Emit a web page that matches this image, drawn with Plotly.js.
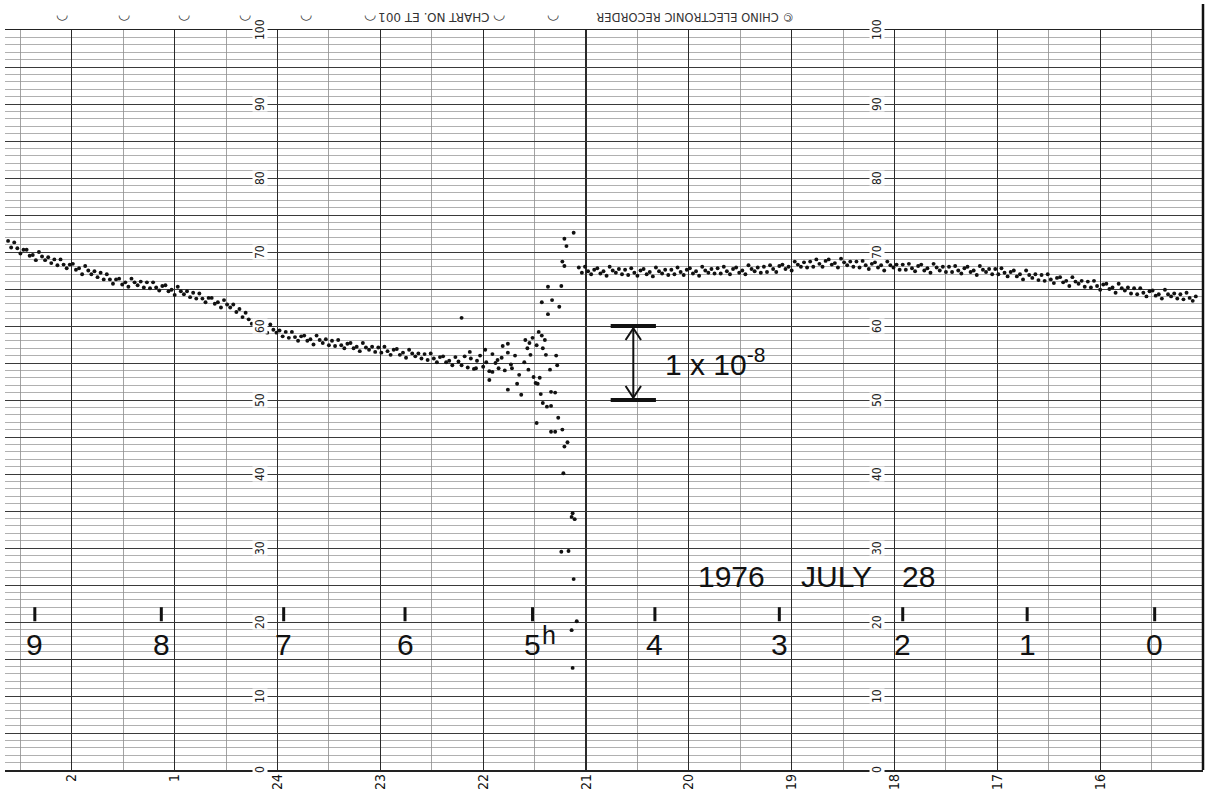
<!DOCTYPE html>
<html><head><meta charset="utf-8">
<script src="https://cdn.plot.ly/plotly-3.0.1.min.js"></script>
<style>html,body{margin:0;padding:0;background:#fff}#chart{width:1208px;height:793px}</style>
</head><body><div id="chart"></div>
<script>
// chart-recorder hour ticks (bottom), time runs right-to-left
const hourVals = [26,25,24,23,22,21,20,19,18,17,16];
const hourText = ['2','1','24','23','22','21','20','19','18','17','16'];
// scale labels printed on the paper
const scaleVals = [0,10,20,30,40,50,60,70,80,90,100];
const scaleCols = [24.17,18.17];
// hand-written UT hour marks
const utLabels = ['9','8','7','6','5','4','3','2','1','0'];
const utPos = [26.36,25.13,23.94,22.76,21.52,20.33,19.12,17.92,16.71,15.47];
const dateParts = ['1976','JULY','28'];
const datePos = [19.59,18.56,17.77];
const perfPos = [26.10,25.49,24.91,24.32,23.72,23.10,21.85,21.32];
const scaleBar = {x:20.54, lo:50, hi:60, label:'1 x 10<sup>-8</sup>'};

// recorded dots, before the disturbance
const leftH = [26.62,26.59,26.56,26.53,26.50,26.47,26.44,26.41,26.38,26.35,
26.32,26.29,26.26,26.23,26.20,26.17,26.14,26.11,26.08,26.05,
26.02,25.99,25.96,25.93,25.90,25.87,25.84,25.81,25.78,25.75,
25.72,25.69,25.66,25.63,25.60,25.57,25.54,25.51,25.48,25.45,
25.42,25.39,25.36,25.33,25.30,25.27,25.24,25.21,25.18,25.15,
25.12,25.09,25.06,25.03,25.00,24.97,24.94,24.91,24.88,24.85,
24.82,24.79,24.76,24.73,24.70,24.67,24.64,24.61,24.58,24.55,
24.52,24.49,24.46,24.43,24.40,24.37,24.34,24.31,24.28,24.25,
24.22,24.19,24.16,24.13,24.10,24.07,24.04,24.01,23.98,23.95,
23.92,23.89,23.86,23.83,23.80,23.77,23.74,23.71,23.68,23.65,
23.62,23.59,23.56,23.53,23.50,23.47,23.44,23.41,23.38,23.35,
23.32,23.29,23.26,23.23,23.20,23.17,23.14,23.11,23.08,23.05,
23.02,22.99,22.96,22.93,22.90,22.87,22.84,22.81,22.78,22.75,
22.72,22.69,22.66,22.63,22.60,22.57,22.54,22.51,22.48,22.45,
22.42,22.39,22.36,22.33,22.30,22.27,22.24,22.21,22.18,22.15,
22.12,22.09,22.06,22.03,22.00,21.97,21.94,21.91,21.88,21.85,
21.82,21.79,21.76,21.73];
const leftV = [71.5,70.6,71.3,70.5,69.8,70.3,70.3,69.5,69.6,68.9,
70.0,69.4,68.9,69.3,68.5,69.0,68.2,69.0,68.3,67.8,
68.3,68.4,67.6,67.8,67.0,68.1,67.5,67.0,67.4,66.6,
67.2,66.3,67.0,66.3,65.7,66.3,66.4,65.6,65.9,65.3,
66.4,65.9,65.5,66.0,65.2,65.9,65.1,65.9,65.2,64.8,
65.4,65.5,64.7,64.9,64.2,65.3,64.7,64.3,64.7,63.9,
64.5,63.7,64.4,63.7,63.2,63.8,63.8,63.0,63.2,62.5,
63.5,62.9,62.5,62.9,61.9,62.3,61.2,61.8,60.9,60.3,
60.7,60.7,59.7,59.9,59.1,60.2,59.5,59.1,59.4,58.6,
59.2,58.4,59.2,58.5,58.0,58.6,58.7,58.0,58.2,57.5,
58.7,58.1,57.7,58.2,57.4,58.0,57.3,58.1,57.4,57.0,
57.6,57.7,57.0,57.2,56.6,57.7,57.1,56.8,57.2,56.5,
57.1,56.4,57.2,56.6,56.1,56.8,56.9,56.1,56.4,55.7,
56.8,56.3,55.9,56.3,55.6,56.2,55.4,56.3,55.6,55.1,
55.8,55.9,55.1,55.3,54.7,55.8,55.2,54.7,55.9,54.4,
55.6,54.2,55.3,56.0,54.5,55.1,53.9,56.2,55.0,54.3,
55.7,54.0,56.4,54.8];
// scattered dots of the disturbance
const noiseH = [22.21,21.76,21.76,21.67,21.63,21.57,21.55,21.52,21.48,21.46,
21.43,21.43,21.42,21.37,21.37,21.33,21.26,21.24,21.23,21.21,
21.21,21.19,21.12,21.29,21.28,21.45,21.49,21.34,21.30,21.47,
21.44,21.42,21.38,21.34,21.27,21.48,21.34,21.30,21.23,21.18,
21.21,21.22,21.13,21.14,21.11,21.24,21.17,21.12,21.09,21.14,
21.13,21.98,21.91,21.86,21.81,21.72,21.69,21.65,21.60,21.56,
21.54,21.51,21.94,22.07,22.13,21.59,21.39,21.35,21.40];
const noiseV = [61.1,57.6,51.4,52.2,50.7,57.0,57.7,58.4,57.4,59.2,
58.7,63.2,57.0,65.3,61.6,63.5,62.6,65.4,68.7,68.1,
71.8,70.8,72.6,56.0,54.7,53.0,52.3,51.1,51.0,52.2,
50.8,49.6,49.1,49.2,47.6,46.9,45.7,45.7,46.0,44.3,
43.7,40.1,34.7,34.2,33.9,29.5,29.6,25.8,20.1,18.9,
13.8,56.8,53.8,55.4,57.3,54.3,56.0,53.4,55.1,54.1,
56.1,53.1,52.7,54.3,56.5,58.1,56.1,54.1,58.1];
// recorded dots, after the disturbance
const rightH = [21.07,21.04,21.01,20.98,20.95,20.92,20.89,20.86,20.83,20.80,
20.77,20.74,20.71,20.68,20.65,20.62,20.59,20.56,20.53,20.50,
20.47,20.44,20.41,20.38,20.35,20.32,20.29,20.26,20.23,20.20,
20.17,20.14,20.11,20.08,20.05,20.02,19.99,19.96,19.93,19.90,
19.87,19.84,19.81,19.78,19.75,19.72,19.69,19.66,19.63,19.60,
19.57,19.54,19.51,19.48,19.45,19.42,19.39,19.36,19.33,19.30,
19.27,19.24,19.21,19.18,19.15,19.12,19.09,19.06,19.03,19.00,
18.97,18.94,18.91,18.88,18.85,18.82,18.79,18.76,18.73,18.70,
18.67,18.64,18.61,18.58,18.55,18.52,18.49,18.46,18.43,18.40,
18.37,18.34,18.31,18.28,18.25,18.22,18.19,18.16,18.13,18.10,
18.07,18.04,18.01,17.98,17.95,17.92,17.89,17.86,17.83,17.80,
17.77,17.74,17.71,17.68,17.65,17.62,17.59,17.56,17.53,17.50,
17.47,17.44,17.41,17.38,17.35,17.32,17.29,17.26,17.23,17.20,
17.17,17.14,17.11,17.08,17.05,17.02,16.99,16.96,16.93,16.90,
16.87,16.84,16.81,16.78,16.75,16.72,16.69,16.66,16.63,16.60,
16.57,16.54,16.51,16.48,16.45,16.42,16.39,16.36,16.33,16.30,
16.27,16.24,16.21,16.18,16.15,16.12,16.09,16.06,16.03,16.00,
15.97,15.94,15.91,15.88,15.85,15.82,15.79,15.76,15.73,15.70,
15.67,15.64,15.61,15.58,15.55,15.52,15.49,15.46,15.43,15.40,
15.37,15.34,15.31,15.28,15.25,15.22,15.19,15.16,15.13,15.10,
15.07];
const rightV = [67.9,67.2,68.0,67.4,67.0,67.6,67.8,67.1,67.4,66.8,
68.0,67.5,67.2,67.7,67.0,67.6,66.9,67.8,67.2,66.8,
67.5,67.7,67.0,67.3,66.7,67.9,67.4,67.1,67.6,66.9,
67.6,67.0,67.9,67.3,66.9,67.6,67.8,67.1,67.4,66.8,
68.0,67.5,67.2,67.7,67.1,67.8,67.1,68.0,67.4,67.0,
67.7,67.9,67.2,67.5,67.0,68.2,67.7,67.4,67.9,67.2,
68.0,67.3,68.2,67.7,67.3,68.1,68.3,67.7,68.0,67.5,
68.7,68.3,68.0,68.6,67.9,68.7,68.0,69.0,68.4,68.0,
68.8,69.0,68.3,68.5,67.9,69.1,68.6,68.2,68.7,68.0,
68.7,67.9,68.8,68.2,67.7,68.4,68.6,67.9,68.2,67.5,
68.7,68.2,67.9,68.3,67.6,68.3,67.6,68.4,67.8,67.4,
68.1,68.3,67.5,67.8,67.2,68.4,67.9,67.5,68.0,67.3,
68.0,67.3,68.1,67.5,67.1,67.8,68.0,67.3,67.5,66.9,
68.1,67.6,67.3,67.7,67.0,67.7,67.0,67.8,67.2,66.7,
67.3,67.5,66.7,67.0,66.3,67.5,66.9,66.5,67.0,66.2,
66.9,66.1,67.0,66.3,65.8,66.5,66.6,65.9,66.1,65.4,
66.6,66.0,65.7,66.1,65.3,66.0,65.2,66.1,65.4,64.9,
65.6,65.7,65.0,65.2,64.5,65.7,65.1,64.8,65.2,64.4,
65.1,64.3,65.1,64.5,64.0,64.7,64.8,64.1,64.3,63.7,
64.9,64.3,64.0,64.4,63.7,64.3,63.6,64.5,63.8,63.4,
64.0];

const ink = '#111';
const dotStyle = {size:3.9, color:ink};
const traces = [
  {x:leftH, y:leftV, type:'scatter', mode:'markers', marker:dotStyle, hoverinfo:'skip'},
  {x:noiseH, y:noiseV, type:'scatter', mode:'markers', marker:dotStyle, hoverinfo:'skip'},
  {x:rightH, y:rightV, type:'scatter', mode:'markers', marker:dotStyle, hoverinfo:'skip'}
];

const lettering = {family:'Liberation Sans, Arial, sans-serif', size:30, color:ink};
const printed = {family:'DejaVu Sans Condensed, DejaVu Sans, sans-serif', size:12, color:'#222'};
// paper-y for the strip above the grid (grid top is 30 px below the page top, grid is 740 px tall)
const aboveY = px => 1 + (30 - px) / 740;

const annotations = [];
scaleCols.forEach(c => scaleVals.forEach(v => annotations.push({
  x:c, y:v, xref:'x', yref:'y', text:String(v), showarrow:false, textangle:-90,
  font:printed, bgcolor:'#fff', borderpad:0, xanchor:'center', yanchor:'middle'})));
utLabels.forEach((t,i) => annotations.push({x:utPos[i], y:16.9, xref:'x', yref:'y', text:t,
  showarrow:false, font:lettering, xanchor:'center', yanchor:'middle'}));
annotations.push({x:21.36, y:18.3, xref:'x', yref:'y', text:'h', showarrow:false,
  font:Object.assign({}, lettering, {size:25}), xanchor:'center', yanchor:'middle'});
dateParts.forEach((t,i) => annotations.push({x:datePos[i], y:26.1, xref:'x', yref:'y', text:t,
  showarrow:false, font:lettering, xanchor:'center', yanchor:'middle'}));
annotations.push({x:20.25, y:55.1, xref:'x', yref:'y', text:scaleBar.label, showarrow:false,
  font:lettering, xanchor:'left', yanchor:'middle'});
annotations.push({x:22.48, y:aboveY(17), xref:'x', yref:'paper', text:'CHART NO. ET 001', showarrow:false,
  textangle:180, font:{family:'DejaVu Sans, sans-serif', size:12, color:'#333'}, yanchor:'middle'});
annotations.push({x:19.94, y:aboveY(17), xref:'x', yref:'paper', text:'\u00A9 CHINO ELECTRONIC RECORDER', showarrow:false,
  textangle:180, font:{family:'DejaVu Sans, sans-serif', size:11.5, color:'#333'}, yanchor:'middle'});
perfPos.forEach(p => annotations.push({x:p, y:aboveY(14), xref:'x', yref:'paper', text:'\u25E1', showarrow:false,
  font:{family:'DejaVu Sans, sans-serif', size:14, color:'#444'}, yanchor:'middle'}));

const shapes = [];
utPos.forEach(p => shapes.push({type:'line', xref:'x', yref:'y', x0:p, x1:p, y0:20.1, y1:22.0,
  line:{color:ink, width:3}}));
// scale bar
const sb = scaleBar, w = 0.22, ah = 0.075, al = 1.9;
shapes.push({type:'line', xref:'x', yref:'y', x0:sb.x+w, x1:sb.x-w, y0:sb.hi, y1:sb.hi, line:{color:ink, width:4}});
shapes.push({type:'line', xref:'x', yref:'y', x0:sb.x+w, x1:sb.x-w, y0:sb.lo, y1:sb.lo, line:{color:ink, width:4}});
shapes.push({type:'line', xref:'x', yref:'y', x0:sb.x, x1:sb.x, y0:sb.lo+0.3, y1:sb.hi-0.3, line:{color:ink, width:2}});
shapes.push({type:'path', xref:'x', yref:'y', path:`M ${sb.x+ah} ${sb.hi-al} L ${sb.x} ${sb.hi-0.3} L ${sb.x-ah} ${sb.hi-al}`, line:{color:ink, width:2}});
shapes.push({type:'path', xref:'x', yref:'y', path:`M ${sb.x+ah} ${sb.lo+al} L ${sb.x} ${sb.lo+0.3} L ${sb.x-ah} ${sb.lo+al}`, line:{color:ink, width:2}});
// right paper edge
shapes.push({type:'line', xref:'paper', yref:'paper', x0:1, x1:1, y0:0, y1:1.035, line:{color:ink, width:2.5}});

const layout = {
  width:1208, height:793,
  margin:{l:5, r:5, t:30, b:23, pad:0},
  paper_bgcolor:'#fff', plot_bgcolor:'#fff',
  showlegend:false,
  xaxis:{range:[26.65,15.0], tickmode:'array', tickvals:hourVals, ticktext:hourText, tickangle:-90,
    ticks:'', showgrid:true, gridcolor:'#2a2a2a', gridwidth:1.2,
    minor:{dtick:0.5, tick0:0, showgrid:true, gridcolor:'#8c8c8c', gridwidth:0.8},
    zeroline:false, showline:true, mirror:true, linecolor:'#222', linewidth:1.5,
    tickfont:{family:'DejaVu Sans Condensed, DejaVu Sans, sans-serif', size:14, color:'#111'},
    ticklabelstandoff:-3,
    automargin:false, fixedrange:true},
  yaxis:{range:[0,100], tickmode:'linear', tick0:0, dtick:5, showgrid:true, gridcolor:'#3a3a3a', gridwidth:1,
    minor:{dtick:1, tick0:0, showgrid:true, gridcolor:'#8e8e8e', gridwidth:0.7},
    showticklabels:false, ticks:'', zeroline:false, automargin:false, fixedrange:true},
  shapes:shapes,
  annotations:annotations
};
Plotly.newPlot('chart', traces, layout, {displayModeBar:false, staticPlot:true});
</script>
</body></html>
